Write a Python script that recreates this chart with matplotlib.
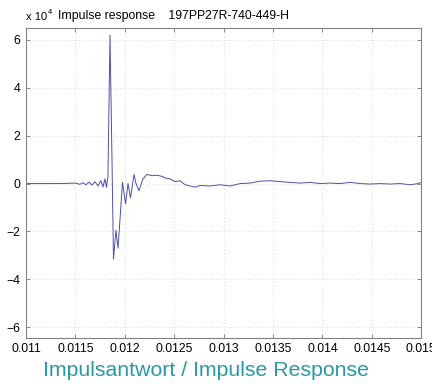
import matplotlib.pyplot as plt
import numpy as np

# Impulse response (time in s, amplitude in units of 1e4)
times = [
    0.011000, 0.011344, 0.011496, 0.011547, 0.011577, 0.011608, 0.011638,
    0.011668, 0.011699, 0.011729, 0.011759, 0.011780, 0.011800, 0.011815,
    0.011830, 0.011851, 0.011871, 0.011886, 0.011911, 0.011932, 0.011952,
    0.011977, 0.012008, 0.012033, 0.012058, 0.012094, 0.012114, 0.012144,
    0.012185, 0.012225, 0.012276, 0.012327, 0.012377, 0.012418, 0.012458,
    0.012509, 0.012559, 0.012610, 0.012661, 0.012711, 0.012762, 0.012863,
    0.012965, 0.013066, 0.013167, 0.013268, 0.013370, 0.013471, 0.013572,
    0.013673, 0.013775, 0.013876, 0.013977, 0.014078, 0.014180, 0.014281,
    0.014382, 0.014484, 0.014585, 0.014686, 0.014787, 0.014889, 0.014970,
    0.015000,
]
amplitude = [
    0.0, 0.0, 0.02, -0.03, 0.04, -0.05, 0.06,
    -0.07, 0.08, -0.10, 0.12, -0.14, 0.20, -0.15,
    0.30, 6.20, 1.00, -3.15, -1.95, -2.70, -1.50,
    0.05, -0.85, 0.00, -0.60, 0.38, 0.00, -0.30,
    0.20, 0.38, 0.33, 0.35, 0.30, 0.22, 0.20,
    0.08, 0.12, -0.05, -0.10, -0.15, -0.08, -0.10,
    -0.05, -0.10, 0.00, 0.02, 0.10, 0.12, 0.08,
    0.05, 0.02, 0.05, 0.00, 0.02, 0.00, 0.05,
    0.00, -0.02, 0.00, -0.02, 0.00, -0.05, 0.00,
    0.05,
]

x_ticks = [0.011, 0.0115, 0.012, 0.0125, 0.013, 0.0135, 0.014, 0.0145, 0.015]
x_labels = ["0.011", "0.0115", "0.012", "0.0125", "0.013", "0.0135", "0.014", "0.0145", "0.015"]
y_ticks = [-6, -4, -2, 0, 2, 4, 6]

plt.rcParams['font.family'] = ['Liberation Sans', 'DejaVu Sans']
plt.rcParams['mathtext.fontset'] = 'custom'
plt.rcParams['mathtext.rm'] = 'Liberation Sans'

fig = plt.figure(figsize=(4.32, 3.84), dpi=100)
ax = fig.add_axes([0.060, 0.120, 0.915, 0.807])

ax.plot(times, amplitude, color="#4b50a6", linewidth=0.7)

ax.set_xlim(0.011, 0.015)
ax.set_ylim(-6.45, 6.5)
ax.set_xticks(x_ticks)
ax.set_xticklabels(x_labels)
ax.set_yticks(y_ticks)

# MATLAB-ish look: inward ticks on all sides, dotted grid, grey frame
ax.tick_params(direction="in", length=3, width=0.6, color="#777777",
               top=True, right=True, labelsize=8.8, pad=4)
ax.grid(True, linestyle=(0, (1, 2.5)), color="#d0d0d0", linewidth=0.6)
for sp in ax.spines.values():
    sp.set_color("#808080")
    sp.set_linewidth(0.8)

fig.text(26 / 432, 1 - 17 / 384, "x 10", fontsize=8, va="center", ha="left")
fig.text(48 / 432, 1 - 13 / 384, "4", fontsize=5.5, va="center", ha="left")
fig.text(58 / 432, 1 - 16 / 384, "Impulse response    197PP27R-740-449-H",
         fontsize=8.8, va="center", ha="left")

fig.text(206 / 432, 1 - 371 / 384, "Impulsantwort / Impulse Response",
         fontsize=15.3, color="#2a98a6", va="center", ha="center")

fig.savefig("out.png", dpi=100, facecolor="white")
